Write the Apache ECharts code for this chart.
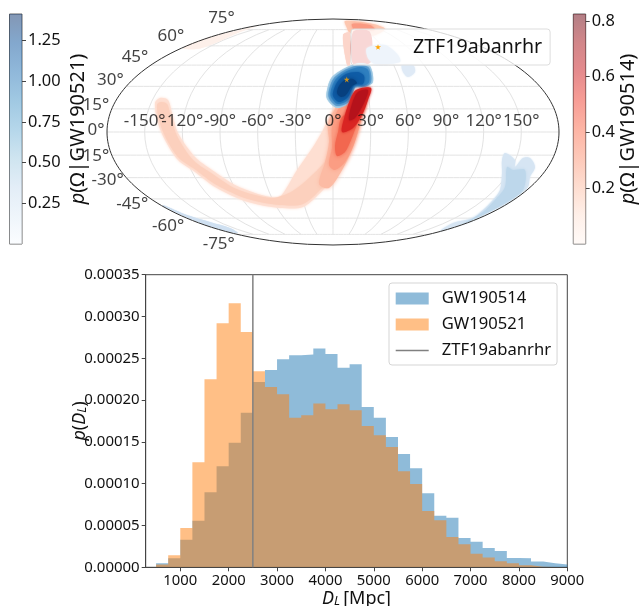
<!DOCTYPE html>
<html><head><meta charset="utf-8">
<style>html,body{margin:0;padding:0;background:#fff}#c{width:640px;height:606px}</style>
<script src="https://cdn.jsdelivr.net/npm/echarts@6/dist/echarts.min.js"></script>
</head><body><div id="c"></div>
<script>
// ---------- histogram data (one value per 250 Mpc bin, last edge closes the last bin)
const binEdges=[500,750,1000,1250,1500,1750,2000,2250,2500,2750,3000,3250,3500,3750,4000,4250,4500,4750,5000,5250,5500,5750,6000,6250,6500,6750,7000,7250,7500,7750,8000,8250,8500,8750,9000];
const gw190514=[4.8,10.8,33,55.8,89.7,121,149,185,221.7,236,249,253.6,254.4,261.6,255,238.8,242.8,191.8,179,156,135.6,118.4,88.5,61.8,59.4,35,30.7,23,19.5,11.2,10.8,6.8,4.8,3.2];
const gw190521=[3.2,14.4,47,125.6,224.9,291.9,315.8,281.5,234.4,215.7,207,179,182,196,189,195,188,169,158,144,115,99.7,67.4,56.2,36.3,27.5,16.3,11.6,7.2,4.8,2.4,0.8,0.4,0];
const ztfDistance=2500;
const xTicks=[1000,2000,3000,4000,5000,6000,7000,8000,9000];
// ---------- sky map: tick labels and source position (degrees)
const lonTicks=[-150,-120,-90,-60,-30,0,30,60,90,120,150];
const latTicks=[-75,-60,-45,-30,-15,0,15,30,45,60,75];
const ztfSky=[12.4,34.8];
// ---------- sky regions, in Mollweide plane units
const redSparse=[[-173,34],[-165,32],[-161,19],[-155,-1],[-138,-25],[-121,-38],[-98,-53],[-78,-61],[-63,-65],[-53,-65],[-36,-38],[-20,-15],[-10,2],[-5,12],[5,27],[27,12],[19,-15],[7,-38],[-10,-58],[-30,-75],[-53,-76],[-73,-73],[-91,-68],[-118,-55],[-138,-40],[-155,-28],[-168,-8],[-175,9],[-178,29]];
const redBand=[[-172,30],[-166,28],[-162,15],[-156,-4],[-140,-28],[-122,-41],[-99,-56],[-78,-63],[-60,-66],[-42,-60],[-25,-47],[-8,-30],[2,-15],[3,-5],[8,15],[24,12],[17,-15],[6,-37],[-11,-56],[-30,-72],[-53,-73],[-73,-70],[-91,-65],[-118,-52],[-137,-38],[-154,-26],[-166,-8],[-173,9],[-176,27]];
const redR0=[[32,32],[28,12],[20,-15],[8,-40],[-4,-56],[-14,-52],[-8,-30],[-4,-10],[-5,8],[5,27],[17,32]];
const redR1=[[32,32],[28,12],[21,-12],[12,-30],[2,-38],[-4,-33],[-1,-15],[-1,5],[6,24],[17,32]];
const redR2=[[30,28],[24,8],[18,-8],[12,-20],[4,-24],[2,-14],[5,0],[9,15]];
const redR3=[[38,44],[35,32],[29,17],[20,4],[9,0],[12,17],[17,32],[23,42]];
const redR4=[[35,42],[31,29],[22,14],[16,12],[19,28],[25,40]];
const redStrip=[[10,97],[17,99],[17,67],[14,67]];
const redColumn=[[20,100],[37,100],[39,72],[35,68],[20,68]];
const redTop=[[12,111],[40,108],[52,103],[39,96],[17,99],[14,104]];
const redTopCore=[[19,108],[37,107],[42,102],[22,102]];
const redNW=[[-150,84],[-126,94],[-93,102],[-76,106],[-93,100],[-120,88],[-136,83]];
const blueB0=[[14,65],[27,69],[37,66],[40,50],[32,45],[22,44],[17,30],[4,24],[-6,33],[-6,42],[-1,55]];
const blueB1=[[14,63],[27,67],[36,64],[38,50],[31,45],[22,45],[17,31],[4,26],[-4,34],[-4,42],[1,54]];
const blueB2=[[14,61],[27,65],[35,62],[36,50],[30,46],[21,46],[16,33],[5,28],[-2,35],[-2,42],[3,53]];
const blueB3=[[13,58],[25,60],[31,56],[30,48],[21,47],[15,35],[6,30],[0,36],[1,43],[5,51]];
const blueB4=[[12,52],[20,53],[24,49],[19,46],[13,37],[8,35],[4,39],[6,46]];
const blueUnderLegend=[[34,84],[52,87],[65,77],[67,70],[42,68],[35,74]];
const blueNE=[[69,67],[80,67],[82,60],[75,55],[70,60]];
const blueSE=[[107,-99],[120,-91],[140,-86],[150,-78],[160,-68],[167,-58],[169,-41],[169,-28],[172,-21],[182,-28],[182,-35],[190,-26],[197,-26],[202,-35],[197,-45],[195,-55],[185,-63],[174,-71],[150,-83],[127,-93]];
const blueSEcore=[[130,-92],[150,-80],[162,-68],[172,-55],[174,-35],[180,-38],[192,-38],[190,-58],[174,-70],[150,-83]];
const blueSW=[[-170,-73],[-146,-83],[-123,-90],[-103,-96],[-95,-101],[-103,-100],[-123,-94.5],[-146,-85.5],[-170,-74]];
// ---------- colour bars
const blueTicks=[0.25,0.5,0.75,1,1.25];
const redTicks=[0.2,0.4,0.6,0.8];
const blueMax=1.413, redMax=0.825;
const blueRamp=['#f7fbff','#deebf7','#c6dbef','#9ecae1','#6baed6','#4292c6','#2171b5','#08519c','#08306b'];
const redRamp=['#fff5f0','#fee0d2','#fcbba1','#fc9272','#fb6a4a','#ef3b2c','#cb181d','#a50f15','#67000d'];

const FONT='"Noto Sans"', TXT='#111', AX='#444';
const PW=226, PH=113;            // half extents of the plane
function moll(lon,lat){
  const phi=lat*Math.PI/180; let t=phi;
  for(let i=0;i<60;i++){
    const d=2*Math.cos(2*t)+2; if(Math.abs(d)<1e-9)break;
    t-= (2*t+Math.sin(2*t)-Math.PI*Math.sin(phi))/d;
  }
  return [PW*lon/180*Math.cos(t),PH*Math.sin(t)];
}
const range=(a,b,s)=>{const r=[];for(let v=a;v<=b;v+=s)r.push(v);return r;};
const hist=(vals)=>binEdges.map((e,i)=>[e,(i<vals.length?vals[i]:vals[vals.length-1])*1e-6]);
const rampStops=(ramp,a)=>ramp.map((c,i)=>{
  const n=parseInt(c.slice(1),16);
  return {offset:1-i/(ramp.length-1),color:`rgba(${n>>16},${(n>>8)&255},${n&255},${a})`};
}).reverse();

function region(pts,color,blur){
  return {type:'custom',xAxisIndex:1,yAxisIndex:1,silent:true,clip:false,z:2,
    data:[[0,0]],
    renderItem:(p,api)=>({type:'polygon',
      shape:{points:pts.map(q=>api.coord(q)),smooth:0.3},
      style:{fill:color,shadowBlur:blur||0,shadowColor:color}})};
}
const gratLine={color:'#e3e3e3',width:1};
const graticule=[];
latTicks.forEach(la=>graticule.push({type:'line',xAxisIndex:1,yAxisIndex:1,symbol:'none',silent:true,clip:false,z:1,lineStyle:gratLine,
  data:range(-180,180,5).map(lo=>moll(lo,la))}));
lonTicks.forEach(lo=>graticule.push({type:'line',xAxisIndex:1,yAxisIndex:1,symbol:'none',silent:true,clip:false,z:1,lineStyle:gratLine,
  data:range(-75,75,5).map(la=>moll(lo,la))}));
const outline=range(-90,90,2).map(la=>moll(180,la)).concat(range(-90,90,2).reverse().map(la=>moll(-180,la)));

const lonLabels=lonTicks.map(lo=>({value:moll(lo,0),label:{formatter:lo+'°',position:'top',distance:2}}));
const latOffsets={75:-11,60:-10,45:-8,30:-6,15:-4,0:-2,'-15':1,'-30':3,'-45':5,'-60':8,'-75':10};
const latLabels=latTicks.map(la=>({value:moll(-180,la),label:{formatter:la+'°',position:'left',distance:2,offset:[0,latOffsets[la]]}}));

const starPath='path://M50 0 L61 35 L98 35 L68 57 L79 91 L50 70 L21 91 L32 57 L2 35 L39 35 Z';
const linePath='path://M0 0H100V4H0Z';
const tick=(sz)=>({fontFamily:FONT,fontSize:sz,color:TXT});
const richName={i:{fontFamily:FONT,fontStyle:'italic',fontSize:20,color:TXT},n:{fontFamily:FONT,fontSize:20,color:TXT}};
const richDL=(sz)=>({i:{fontFamily:FONT,fontStyle:'italic',fontSize:sz,color:TXT},s:{fontFamily:FONT,fontStyle:'italic',fontSize:sz*0.7,color:TXT,verticalAlign:'bottom',padding:[5,0,0,0]},n:{fontFamily:FONT,fontSize:sz,color:TXT}});

const option={
  animation:false,backgroundColor:'#fff',textStyle:{fontFamily:FONT},
  grid:[
    {left:145.7,top:274.7,width:421.6,height:292.6,show:true,borderColor:AX,borderWidth:1,backgroundColor:'transparent',outerBoundsMode:'none'},
    {left:107,top:19,width:452,height:226,outerBoundsMode:'none'},
    {left:9.5,top:14,width:12.5,height:230,show:true,borderColor:'#666',borderWidth:1,outerBoundsMode:'none'},
    {left:573.3,top:14,width:12.4,height:230,show:true,borderColor:'#666',borderWidth:1,outerBoundsMode:'none'}
  ],
  xAxis:[
    {gridIndex:0,type:'value',min:285,max:9000,splitLine:{show:false},
     axisLine:{show:true,lineStyle:{color:AX}},axisTick:{show:true,length:4,lineStyle:{color:AX},customValues:xTicks},
     axisLabel:Object.assign({customValues:xTicks,margin:6,formatter:v=>String(v)},tick(14.8)),
     name:'{i|D}{s|L} {n|[Mpc]}',nameLocation:'middle',nameGap:23,
     nameTextStyle:{rich:richDL(18)}},
    {gridIndex:1,type:'value',min:-PW,max:PW,show:false},
    {gridIndex:2,type:'category',data:['a'],show:false},
    {gridIndex:3,type:'category',data:['a'],show:false}
  ],
  yAxis:[
    {gridIndex:0,type:'value',min:0,max:0.00035,interval:0.00005,splitLine:{show:false},
     axisLine:{show:true,lineStyle:{color:AX}},axisTick:{show:true,length:4,lineStyle:{color:AX}},
     axisLabel:Object.assign({formatter:v=>v.toFixed(5),margin:6},tick(15)),
     name:'{i|p}{n|(}{i|D}{s|L}{n|)}',nameLocation:'middle',nameRotate:90,nameGap:57,nameMoveOverlap:false,
     nameTextStyle:{rich:richDL(18)}},
    {gridIndex:1,type:'value',min:-PH,max:PH,show:false},
    {gridIndex:2,type:'value',min:0,max:blueMax,position:'right',splitLine:{show:false},axisLine:{show:false},
     axisTick:{show:true,length:4,lineStyle:{color:AX},customValues:blueTicks},
     axisLabel:Object.assign({customValues:blueTicks,formatter:v=>v.toFixed(2),margin:6},tick(16.4)),
     name:'{i|p}{n|(Ω|GW190521)}',nameLocation:'middle',nameRotate:90,nameGap:46,nameTextStyle:{rich:richName}},
    {gridIndex:3,type:'value',min:0,max:redMax,position:'right',splitLine:{show:false},axisLine:{show:false},
     axisTick:{show:true,length:4,lineStyle:{color:AX},customValues:redTicks},
     axisLabel:Object.assign({customValues:redTicks,formatter:v=>v.toFixed(1),margin:6},tick(16.4)),
     name:'{i|p}{n|(Ω|GW190514)}',nameLocation:'middle',nameRotate:90,nameGap:33,nameTextStyle:{rich:richName}}
  ],
  legend:[
    {left:389,top:283,orient:'vertical',itemWidth:33,itemHeight:12,itemGap:9,padding:[7,6,6,6.7],
     backgroundColor:'rgba(255,255,255,0.8)',borderColor:'#d5d5d5',borderWidth:1,borderRadius:3,
     textStyle:{fontFamily:FONT,fontSize:16.6,color:TXT,padding:[0,0,0,8]},
     data:[{name:'GW190514',icon:'rect',itemStyle:{color:'rgba(31,119,180,0.5)'}},
           {name:'GW190521',icon:'rect',itemStyle:{color:'rgba(255,127,14,0.5)'}},
           {name:'ZTF19abanrhr',icon:linePath,itemStyle:{color:'#808080'}}]},
    {left:351,top:29,orient:'vertical',itemWidth:6,itemHeight:6,padding:[8,8,8,24],
     backgroundColor:'rgba(255,255,255,0.8)',borderColor:'#dddddd',borderWidth:1,borderRadius:3,
     textStyle:{fontFamily:FONT,fontSize:19.6,color:'#111',padding:[0,0,0,27]},
     data:[{name:'ZTF19abanrhr',icon:starPath,itemStyle:{color:'#ffa500'}}]}
  ],
  series:[
    {name:'GW190514',type:'line',xAxisIndex:0,yAxisIndex:0,step:'end',symbol:'none',silent:true,data:hist(gw190514),
     lineStyle:{width:0},itemStyle:{color:'rgba(31,119,180,0.5)'},areaStyle:{color:'rgba(31,119,180,0.5)',opacity:1},z:2},
    {name:'GW190521',type:'line',xAxisIndex:0,yAxisIndex:0,step:'end',symbol:'none',silent:true,data:hist(gw190521),
     lineStyle:{width:0},itemStyle:{color:'rgba(255,127,14,0.5)'},areaStyle:{color:'rgba(255,127,14,0.5)',opacity:1},z:3},
    {name:'ZTF19abanrhr',type:'line',xAxisIndex:0,yAxisIndex:0,symbol:'none',silent:true,z:4,
     data:[[ztfDistance,0],[ztfDistance,0.00035]],lineStyle:{color:'#808080',width:1.5},itemStyle:{color:'#808080'}},
    ...graticule,
    region(redNW,'#fdf0ea',1),
    region(redSparse,'#fedfd2',3),
    region(redBand,'#fcd0bd',2),
    region(redR0,'#fcbba4',4),
    region(redR1,'#fb9d83',4),
    region(redR2,'#f2674f',4),
    region(redTop,'#fdc7b0',3),
    region(redTopCore,'#fa9a82',3),
    region(redStrip,'#fcd5ca',1),
    region(redColumn,'#d93a35',0),
    region(blueUnderLegend,'#aac8eb',2),
    region(blueNE,'#dfeaf6',2),
    region(blueB0,'#a8cfe6',1),
    region(blueB1,'#5f9fd0',2),
    region(blueB2,'#2f7fbf',3),
    region(blueB3,'#0f5ca6',3),
    region(blueB4,'#07407f',5),
    region(redR3,'#d92523',3),
    region(redR4,'#b5121b',3),
    region(blueSE,'#d6e5f3',2),
    region(blueSEcore,'#bdd7eb',3),
    region(blueSW,'#cfe0f1',1),
    {type:'line',xAxisIndex:1,yAxisIndex:1,symbol:'none',silent:true,clip:false,z:3,data:outline,
     lineStyle:{color:'#333',width:1}},
    {name:'ZTF19abanrhr',type:'scatter',xAxisIndex:1,yAxisIndex:1,silent:true,z:4,symbol:starPath,symbolSize:6,
     itemStyle:{color:'#ffa500'},data:[moll(ztfSky[0],ztfSky[1])]},
    {type:'scatter',xAxisIndex:1,yAxisIndex:1,silent:true,z:5,symbolSize:1,itemStyle:{color:'transparent'},
     label:{show:true,fontFamily:FONT,fontSize:17,color:TXT},data:lonLabels.concat(latLabels),clip:false},
    {type:'bar',xAxisIndex:2,yAxisIndex:2,barWidth:'100%',silent:true,data:[blueMax],
     itemStyle:{color:new echarts.graphic.LinearGradient(0,0,0,1,rampStops(blueRamp,0.5))}},
    {type:'bar',xAxisIndex:3,yAxisIndex:3,barWidth:'100%',silent:true,data:[redMax],
     itemStyle:{color:new echarts.graphic.LinearGradient(0,0,0,1,rampStops(redRamp,0.5))}}
  ]
};
echarts.init(document.getElementById('c'),null,{renderer:'canvas'}).setOption(option);
</script></body></html>
